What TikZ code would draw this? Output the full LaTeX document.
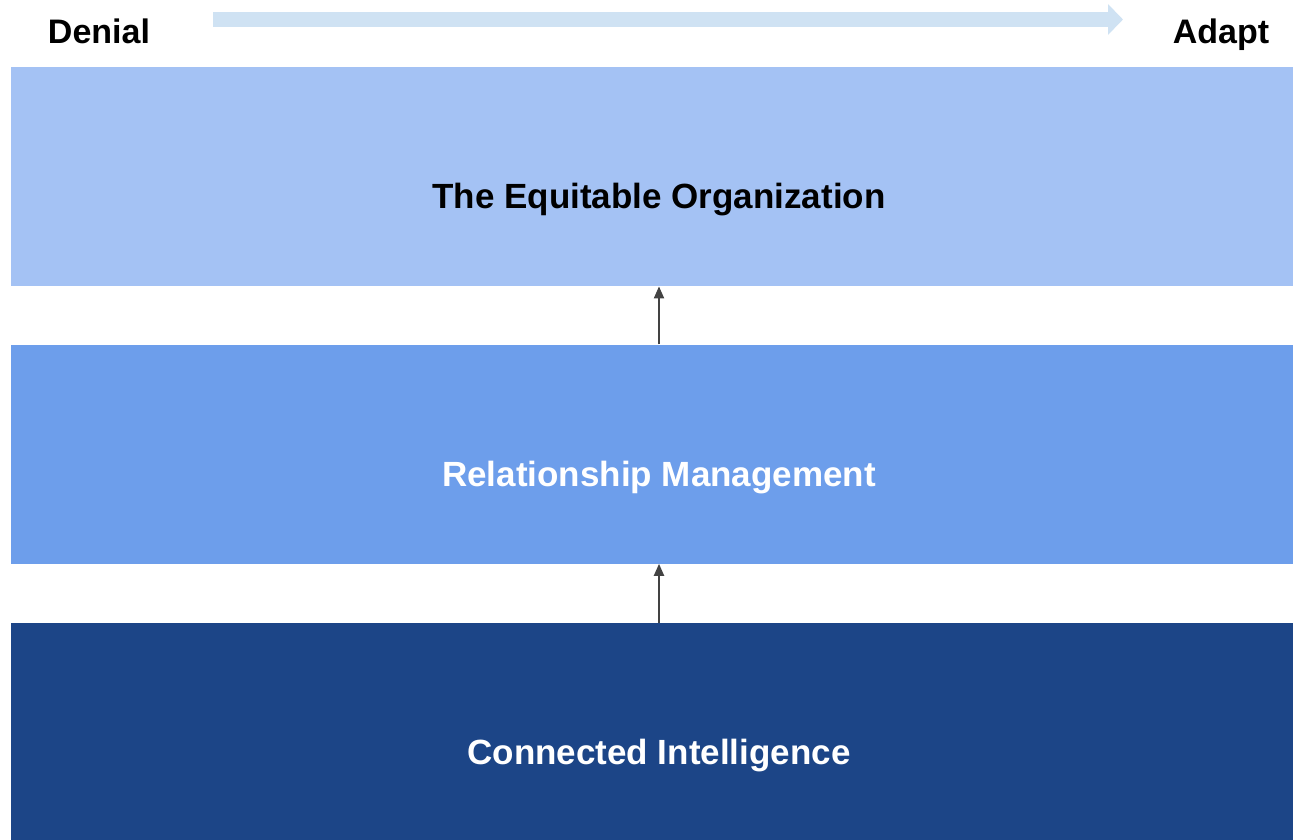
\documentclass[tikz,border=0pt]{standalone}
\usepackage{fontspec}
\setmainfont{Liberation Sans}
\usetikzlibrary{arrows.meta, positioning}
\definecolor{pale}{HTML}{CFE2F3}
\definecolor{lightlayer}{HTML}{A4C2F4}
\definecolor{midlayer}{HTML}{6D9EEB}
\definecolor{darklayer}{HTML}{1C4587}
\definecolor{liftgray}{HTML}{434343}
\tikzset{
  layer/.style={minimum width=1296pt, minimum height=219pt, inner sep=0pt, text height=64pt, text depth=0pt, font=\fontsize{35}{40}\selectfont\bfseries},
  lift/.style={draw=liftgray, line width=2pt, -{Triangle[length=12pt, width=10pt]}},
  endlabel/.style={inner sep=0pt, anchor=base, font=\fontsize{34}{40}\selectfont\bfseries}
}
\begin{document}
\begin{tikzpicture}[x=1pt, y=-1pt]
 \useasboundingbox (0,0) rectangle (1293,840);
 % layers, bottom up
 \node[layer, fill=darklayer, text=white] (CI) at (659,732.5) {Connected Intelligence};
 \node[layer, fill=midlayer, text=white, above=59pt of CI] (RM) {Relationship Management};
 \node[layer, fill=lightlayer, text=black, above=58pt of RM] (EO) {The Equitable Organization};
 \draw[lift] (CI.north) -- (RM.south);
 \draw[lift] (RM.north) -- (EO.south);

 % scale on top
 \node[endlabel] (DN) at (99,44) {Denial};
 \node[endlabel] (AD) at (1221,44) {Adapt};
 \coordinate (from) at (213,19.5);
 \coordinate (to) at (1123,19.5);
 \draw[pale, line width=15pt, -{Triangle[length=15pt, width=30pt]}] (from) -- (to);
\end{tikzpicture}
\end{document}
